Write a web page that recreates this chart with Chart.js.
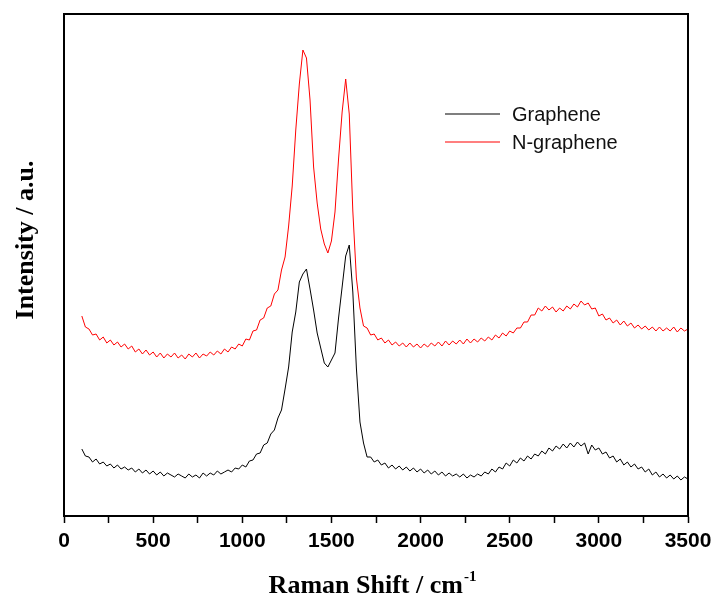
<!DOCTYPE html>
<html>
<head>
<meta charset="utf-8">
<script src="https://cdn.jsdelivr.net/npm/chart.js@4.4.1/dist/chart.umd.min.js"></script>
<style>
  html, body { margin: 0; padding: 0; background: #fff; }
  #wrap { width: 718px; height: 602px; }
</style>
</head>
<body>
<div id="wrap"><canvas id="raman" width="718" height="602"></canvas></div>
<script>
// Raman shift (cm-1), one point every 20 cm-1
const wavenumber = [
  100, 120, 140, 160, 180, 200, 220, 240, 260, 280,
  300, 320, 340, 360, 380, 400, 420, 440, 460, 480,
  500, 520, 540, 560, 580, 600, 620, 640, 660, 680,
  700, 720, 740, 760, 780, 800, 820, 840, 860, 880,
  900, 920, 940, 960, 980, 1000, 1020, 1040, 1060, 1080,
  1100, 1120, 1140, 1160, 1180, 1200, 1220, 1240, 1260, 1280,
  1300, 1320, 1340, 1360, 1380, 1400, 1420, 1440, 1460, 1480,
  1500, 1520, 1540, 1560, 1580, 1600, 1620, 1640, 1660, 1680,
  1700, 1720, 1740, 1760, 1780, 1800, 1820, 1840, 1860, 1880,
  1900, 1920, 1940, 1960, 1980, 2000, 2020, 2040, 2060, 2080,
  2100, 2120, 2140, 2160, 2180, 2200, 2220, 2240, 2260, 2280,
  2300, 2320, 2340, 2360, 2380, 2400, 2420, 2440, 2460, 2480,
  2500, 2520, 2540, 2560, 2580, 2600, 2620, 2640, 2660, 2680,
  2700, 2720, 2740, 2760, 2780, 2800, 2820, 2840, 2860, 2880,
  2900, 2920, 2940, 2960, 2980, 3000, 3020, 3040, 3060, 3080,
  3100, 3120, 3140, 3160, 3180, 3200, 3220, 3240, 3260, 3280,
  3300, 3320, 3340, 3360, 3380, 3400, 3420, 3440, 3460, 3480,
  3500
];

// intensity, arbitrary units
const graphene = [
  67, 60, 59, 54, 57, 52, 54, 50, 52, 48,
  51, 47, 49, 46, 48, 44, 47, 43, 46, 42,
  45, 41, 44, 40, 43, 41, 39, 42, 40, 38,
  42, 39, 41, 38, 43, 40, 43, 41, 45, 42,
  44, 46, 44, 48, 47, 51, 49, 55, 56, 62,
  63, 71, 73, 82, 86, 98, 106, 127, 149, 184,
  204, 234, 242, 247, 227, 206, 183, 168, 153, 149,
  156, 163, 198, 229, 260, 271, 224, 148, 94, 73,
  59, 59, 54, 56, 51, 53, 48, 51, 47, 50,
  46, 49, 45, 48, 44, 47, 43, 46, 42, 45,
  41, 44, 40, 43, 40, 42, 39, 42, 38, 41,
  39, 42, 40, 44, 42, 47, 44, 49, 47, 53,
  50, 56, 53, 58, 55, 60, 57, 62, 60, 65,
  62, 68, 65, 70, 67, 72, 68, 73, 69, 74,
  70, 73, 62, 71, 66, 68, 62, 64, 58, 60,
  54, 57, 51, 54, 49, 52, 47, 49, 44, 47,
  41, 44, 39, 42, 38, 41, 37, 40, 36, 39,
  37
];

const nGraphene = [
  200, 189, 187, 181, 182, 176, 179, 173, 176, 171,
  174, 169, 172, 167, 170, 164, 167, 162, 166, 161,
  164, 159, 163, 158, 162, 159, 163, 158, 161, 157,
  162, 159, 163, 158, 162, 160, 164, 161, 165, 162,
  167, 164, 169, 167, 172, 170, 177, 176, 185, 186,
  196, 198, 208, 210, 222, 226, 246, 259, 290, 330,
  386, 432, 466, 458, 416, 349, 313, 287, 272, 263,
  275, 304, 357, 404, 437, 402, 305, 238, 208, 190,
  188, 181, 182, 176, 178, 173, 176, 171, 174, 170,
  173, 169, 173, 169, 172, 168, 172, 169, 173, 170,
  174, 170, 175, 171, 175, 172, 176, 172, 177, 173,
  177, 174, 178, 175, 179, 176, 181, 178, 183, 180,
  185, 183, 188, 188, 194, 194, 201, 201, 208, 205,
  210, 206, 209, 204, 208, 205, 210, 207, 212, 209,
  215, 211, 213, 207, 208, 200, 202, 196, 198, 193,
  196, 191, 195, 190, 193, 188, 191, 187, 190, 186,
  189, 185, 189, 185, 188, 185, 189, 184, 188, 185,
  187
];

const seriesNames = ['Graphene', 'N-graphene'];
const xTickStep = 250;   // minor ticks, labels every 500

const toPoints = ys => wavenumber.map((w, i) => ({ x: w, y: ys[i] }));

// box around the plot area
const frame = {
    id: 'frame',
    afterDraw(chart) {
        const { ctx, chartArea: a } = chart;
        ctx.save();
        ctx.strokeStyle = '#000';
        ctx.lineWidth = 2;
        ctx.strokeRect(a.left, a.top, a.right - a.left, a.bottom - a.top);
        ctx.restore();
    }
};

// legend inside the plot, line sample + name
const lineLegend = {
    id: 'lineLegend',
    afterDraw(chart) {
        const ctx = chart.ctx;
        ctx.save();
        ctx.font = '20px "Liberation Sans", Arial, sans-serif';
        ctx.textBaseline = 'middle';
        ctx.textAlign = 'left';
        chart.data.datasets.forEach((ds, i) => {
            const y = 114 + i * 28;
            ctx.strokeStyle = ds.borderColor;
            ctx.lineWidth = 1.2;
            ctx.beginPath();
            ctx.moveTo(445, y);
            ctx.lineTo(500, y);
            ctx.stroke();
            ctx.fillStyle = '#111';
            ctx.fillText(ds.label, 512, y + 1);
        });
        ctx.restore();
    }
};

// axis titles (x title needs a superscript)
const axisTitles = {
    id: 'axisTitles',
    afterDraw(chart) {
        const ctx = chart.ctx;
        const a = chart.chartArea;
        const serif = '"Liberation Serif", "Times New Roman", serif';
        ctx.save();
        ctx.fillStyle = '#000';

        ctx.font = 'bold 26px ' + serif;
        ctx.textAlign = 'center';
        ctx.textBaseline = 'middle';
        ctx.translate(26, 240);
        ctx.rotate(-Math.PI / 2);
        ctx.fillText('Intensity / a.u.', 0, 0);
        ctx.setTransform(1, 0, 0, 1, 0, 0);

        const main = 'Raman Shift / cm';
        const sup = '-1';
        ctx.font = 'bold 26px ' + serif;
        const wMain = ctx.measureText(main).width;
        ctx.font = 'bold 15px ' + serif;
        const wSup = ctx.measureText(sup).width;
        const x0 = (a.left + a.right) / 2 - 4 - (wMain + wSup) / 2;
        ctx.textAlign = 'left';
        ctx.textBaseline = 'alphabetic';
        ctx.font = 'bold 26px ' + serif;
        ctx.fillText(main, x0, 593);
        ctx.font = 'bold 15px ' + serif;
        ctx.fillText(sup, x0 + wMain + 1, 581);
        ctx.restore();
    }
};

const ctx = document.getElementById('raman');

new Chart(ctx, {
    type: 'line',
    data: {
        datasets: [
            {
                label: seriesNames[0],
                data: toPoints(graphene),
                borderColor: '#000000',
                borderWidth: 1,
                pointRadius: 0,
                tension: 0,
                fill: false
            },
            {
                label: seriesNames[1],
                data: toPoints(nGraphene),
                borderColor: '#ff0000',
                borderWidth: 1,
                pointRadius: 0,
                tension: 0,
                fill: false
            }
        ]
    },
    options: {
        responsive: false,
        devicePixelRatio: 1,
        animation: false,
        layout: { padding: { left: 64, right: 30, top: 14, bottom: 0 } },
        plugins: {
            legend: { display: false },
            tooltip: { enabled: false }
        },
        scales: {
            x: {
                type: 'linear',
                min: 0,
                max: 3500,
                afterFit(scale) { scale.height = 86; },
                border: { display: true, color: '#000', width: 2 },
                grid: {
                    drawOnChartArea: false,
                    drawTicks: true,
                    tickLength: 7,
                    tickColor: '#000',
                    tickWidth: 1.5
                },
                ticks: {
                    stepSize: xTickStep,
                    autoSkip: false,
                    maxRotation: 0,
                    padding: 6,
                    color: '#000',
                    font: { family: '"Liberation Sans", Arial, sans-serif', size: 21, weight: 'bold' },
                    callback: v => (v % 500 === 0 ? v : '')
                }
            },
            y: {
                display: false,
                min: 0,
                max: 502
            }
        }
    },
    plugins: [frame, lineLegend, axisTitles]
});
</script>
</body>
</html>
